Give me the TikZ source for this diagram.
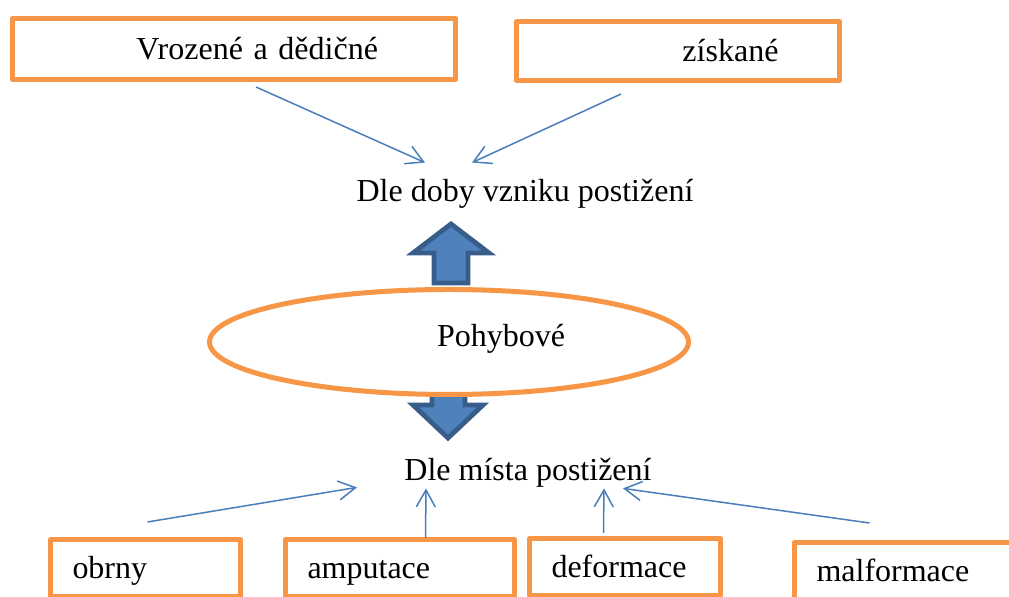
\documentclass[tikz,border=0pt]{standalone}
\usepackage{fontspec}
\setmainfont{Liberation Serif}
\usetikzlibrary{calc}
\usetikzlibrary{arrows.meta}
\usetikzlibrary{shapes.geometric}
\definecolor{boxorange}{HTML}{F79646}
\definecolor{linkblue}{HTML}{4A7EBB}
\definecolor{arrowfill}{HTML}{4F81BD}
\definecolor{arrowline}{HTML}{385D8A}
\tikzstyle{box}=[draw=boxorange,line width=2.5pt,line join=round,fill=white,inner xsep=0pt,inner ysep=0pt,align=left,text height=14pt,text depth=3pt,minimum height=28.5pt,anchor=north west]
\tikzstyle{lbl}=[inner sep=0pt,text height=14pt,text depth=3pt,anchor=base]
\tikzstyle{link}=[draw=linkblue,line width=0.75pt,-{Straight Barb[length=8.5pt,width=9.5pt]}]
\tikzstyle{bigarrow}=[draw=arrowline,fill=arrowfill,line width=2.4pt]

\begin{document}
\begin{tikzpicture}[x=0.5pt,y=-0.5pt,every node/.style={font=\fontsize{16pt}{19pt}\selectfont}]
        \useasboundingbox (0,0) rectangle (1009,597);
        \clip (0,0) rectangle (1009,597);
        \node[box,text width=221.5pt,minimum height=30.5pt] (vroz) at (10,16) {\hspace*{62pt}Vrozené a dědičné};
        \node[box,text width=161.5pt,minimum height=29.5pt] (zisk) at (514,19) {\hspace*{83pt}získané};
        \node[lbl] (doba) at (525,202) {Dle doby vzniku postižení};
        \draw[bigarrow] (451,224) -- (489,253) -- (468,253) -- (468,283) -- (434,283) -- (434,253) -- (413,253) -- cycle;
        \draw[bigarrow] (432,380) -- (465,380) -- (465,405) -- (483,405) -- (448,438) -- (413,405) -- (432,405) -- cycle;
        \node[ellipse,draw=boxorange,line width=2.5pt,fill=white,minimum width=239.5pt,minimum height=52.5pt,inner sep=0pt,text height=8pt,text depth=3pt] (pohyb) at (449,342) {\hspace*{52pt}Pohybové};
        \node[lbl] (misto) at (528,481) {Dle místa postižení};
        \foreach \n/\x/\y/\w in {obrny/48/537/95,amputace/283/537/114.5,deformace/527/536/95.5,malformace/792/540/124}{
          \node[box,text width=\w pt] (\n) at (\x,\y) {\hspace*{11pt}\n};
        }
        \draw[link] ($(vroz.south)+(22,5)$) -- ($(doba.north)+(-100,-11)$);
        \draw[link] ($(zisk.south)+(-57,11)$) -- ($(doba.north)+(-53,-11)$);
        \draw[link] ($(obrny.north)+(2,-15)$) -- ($(misto.south)+(-171,0)$);
        \draw[link] ($(amputace.north)+(25.5,1)$) -- ($(misto.south)+(-102,1)$);
        \draw[link] ($(deformace.north)+(-21.5,-3)$) -- ($(misto.south)+(76,1)$);
        \draw[link] ($(malformace.north)+(-49,-17)$) -- ($(misto.south)+(95,1)$);
      \end{tikzpicture}
\end{document}
